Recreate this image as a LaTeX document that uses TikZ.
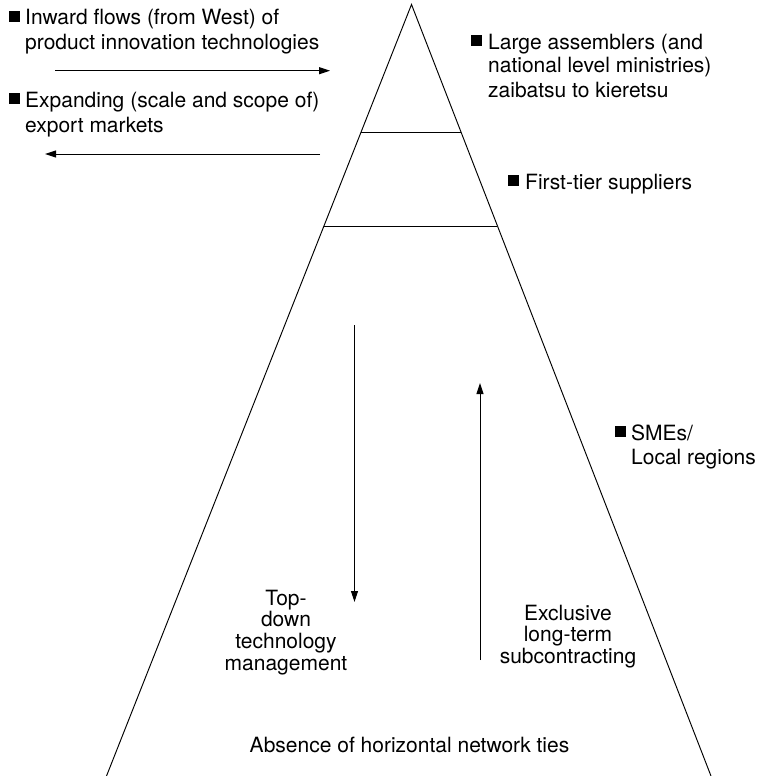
\documentclass[tikz,border=0pt]{standalone}
\usepackage{fontspec}
\setmainfont{TeX Gyre Heros}
\usetikzlibrary{arrows.meta,calc}
\begin{document}
\begin{tikzpicture}[x=1pt,y=-1pt,
  lbl/.style={inner sep=0pt, font=\fontsize{21}{25}\selectfont},
  clbl/.style={inner sep=0pt, font=\fontsize{21}{21.5}\selectfont},
  sq/.style={fill=black, minimum size=11pt, inner sep=0pt},
  edgeline/.style={line width=0.95pt},
  arr/.style={line width=1pt, -{Triangle[length=11pt,width=7pt]}}]
\useasboundingbox (0,0) rectangle (760,776);
% pyramid
\coordinate (apex) at (411.5,4.5);
\coordinate (bl) at (106.5,776);
\coordinate (br) at (711,776);
\draw[edgeline] (bl) -- (apex) -- (br);
\coordinate (l1) at ($(apex)!0.1653!(bl)$);
\coordinate (r1) at ($(apex)!0.1653!(br)$);
\coordinate (l2) at ($(apex)!0.2871!(bl)$);
\coordinate (r2) at ($(apex)!0.2871!(br)$);
\draw[edgeline] (l1) -- (r1);
\draw[edgeline] (l2) -- (r2);
% left texts
\node[sq] (b1) at (14,16.5) {};
\node[lbl, anchor=base west] (t1) at (25,25) {\begin{tabular}[t]{@{}l@{}}Inward flows (from West) of\\product innovation technologies\end{tabular}};
\node[sq] (b2) at (14,98.5) {};
\node[lbl, anchor=base west] (t2) at (25,107) {\begin{tabular}[t]{@{}l@{}}Expanding (scale and scope of)\\export markets\end{tabular}};
\coordinate (a1s) at (55,70.7);
\coordinate (a1e) at (330,70.7);
\draw[arr] (a1s) -- (a1e);
\coordinate (a2s) at (320,154);
\coordinate (a2e) at (45,154);
\draw[arr] (a2s) -- (a2e);
% right texts
\node[sq] (b3) at (476,40.5) {};
\node[lbl, anchor=base west] (t3) at (488,49) {\begin{tabular}[t]{@{}l@{}}Large assemblers (and\\[-1pt]national level ministries)\\[-1pt]zaibatsu to kieretsu\end{tabular}};
\node[sq] (b4) at (513,180.5) {};
\node[lbl, anchor=base west] (t4) at (525,189) {First-tier suppliers};
\node[sq] (b5) at (620,431.5) {};
\node[lbl, anchor=base west] (t5) at (631,440) {\begin{tabular}[t]{@{}l@{}}SMEs/\\[-1pt]Local regions\end{tabular}};
% inner arrows
\coordinate (a3s) at (354.5,325);
\coordinate (a3e) at (354.5,602);
\draw[arr] (a3s) -- (a3e);
\coordinate (a4s) at (480,660);
\coordinate (a4e) at (480,383);
\draw[arr] (a4s) -- (a4e);
\node[clbl, anchor=base] (t6) at (286,605) {\begin{tabular}[t]{@{}c@{}}Top-\\down\\technology\\management\end{tabular}};
\node[clbl, anchor=base] (t7) at (568,620) {\begin{tabular}[t]{@{}c@{}}Exclusive\\long-term\\subcontracting\end{tabular}};
\node[lbl, anchor=base] (t8) at (409.5,752) {Absence of horizontal network ties};
\end{tikzpicture}
\end{document}
